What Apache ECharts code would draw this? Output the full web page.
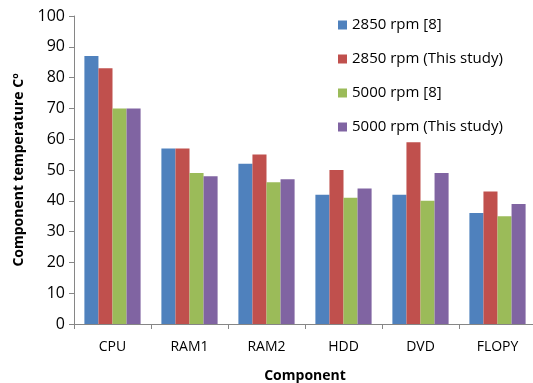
<!DOCTYPE html>
<html>
<head>
<meta charset="utf-8">
<script src="https://cdn.jsdelivr.net/npm/echarts@6/dist/echarts.min.js"></script>
<style>
  html, body { margin: 0; padding: 0; background: #fff; }
  #chart { width: 533px; height: 383px; }
</style>
</head>
<body>
<div id="chart"></div>
<script>
// Component temperatures for two fan speeds
var components = ['CPU', 'RAM1', 'RAM2', 'HDD', 'DVD', 'FLOPY'];
var rpm2850Ref = [87, 57, 52, 42, 42, 36];
var rpm2850Study = [83, 57, 55, 50, 59, 43];
var rpm5000Ref = [70, 49, 46, 41, 40, 35];
var rpm5000Study = [70, 48, 47, 44, 49, 39];
var seriesNames = ['2850 rpm [8]', '2850 rpm (This study)', '5000 rpm [8]', '5000 rpm (This study)'];
var colors = ['#4F81BD', '#C0504D', '#9BBB59', '#8064A2'];

var font = 'Open Sans';
var chart = echarts.init(document.getElementById('chart'));

function barSeries(name, data) {
  return {
    name: name,
    type: 'bar',
    data: data,
    barGap: '0%',
    barCategoryGap: '27%'
  };
}

chart.setOption({
  animation: false,
  color: colors,
  grid: { left: 74, right: -3, top: 16, bottom: 59, containLabel: false, outerBoundsMode: 'none' },
  legend: {
    orient: 'vertical',
    left: 333,
    top: 10,
    itemWidth: 9,
    itemHeight: 9,
    itemGap: 14,
    icon: 'rect',
    textStyle: { fontFamily: font, fontSize: 15, color: '#000', lineHeight: 20 },
    data: seriesNames
  },
  xAxis: {
    type: 'category',
    data: components,
    name: 'Component',
    nameLocation: 'middle',
    nameGap: 45,
    nameTextStyle: { fontFamily: font, fontSize: 14, fontWeight: 'bold', color: '#000' },
    axisLine: { lineStyle: { color: '#868686', width: 1 } },
    axisTick: { show: true, length: 5, lineStyle: { color: '#868686' } },
    axisLabel: { fontFamily: font, fontSize: 14, color: '#000', margin: 16 }
  },
  yAxis: {
    type: 'value',
    min: 0,
    max: 100,
    interval: 10,
    name: 'Component temperature Cº',
    nameLocation: 'middle',
    nameGap: 48,
    nameTextStyle: { fontFamily: font, fontSize: 14, fontWeight: 'bold', color: '#000' },
    axisLine: { show: true, lineStyle: { color: '#868686', width: 1 } },
    axisTick: { show: true, length: 5, lineStyle: { color: '#868686' } },
    splitLine: { show: false },
    axisLabel: { fontFamily: font, fontSize: 16, color: '#000', margin: 9 }
  },
  series: [
    barSeries(seriesNames[0], rpm2850Ref),
    barSeries(seriesNames[1], rpm2850Study),
    barSeries(seriesNames[2], rpm5000Ref),
    barSeries(seriesNames[3], rpm5000Study)
  ]
});
</script>
</body>
</html>
